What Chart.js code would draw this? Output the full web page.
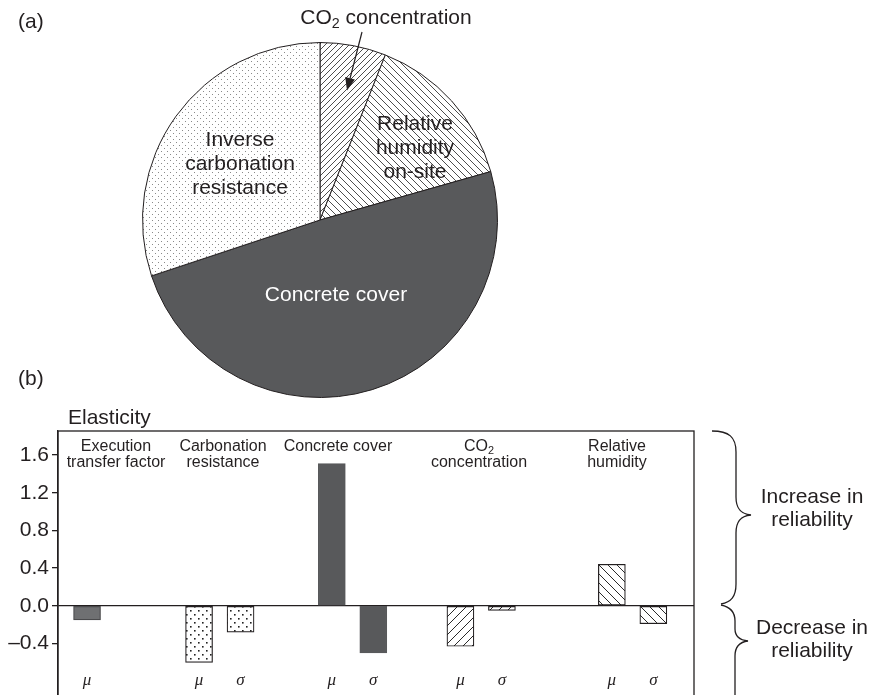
<!DOCTYPE html>
<html>
<head>
<meta charset="utf-8">
<script src="https://cdn.jsdelivr.net/npm/chart.js@4.4.1/dist/chart.umd.min.js"></script>
<style>
  html, body { margin: 0; padding: 0; width: 876px; height: 695px; overflow: hidden; background: #fff; }
  body { position: relative; font-family: "Liberation Sans", Arial, Helvetica, sans-serif; color: #231f20; }
  canvas { position: absolute; }
  .t { position: absolute; white-space: nowrap; text-align: center; transform: translate(-50%, -50%); }
  .l { position: absolute; white-space: nowrap; transform: translate(0, -50%); }
  .sub { font-size: 0.68em; position: relative; top: 0.3em; line-height: 0; }
  .sym { font-family: "Liberation Serif", "DejaVu Serif", serif; font-style: italic; font-size: 17px; }
  svg { position: absolute; left: 0; top: 0; }
</style>
</head>
<body>
<canvas id="pie" width="356" height="356" style="left:142px; top:42px"></canvas>
<canvas id="bars" width="876" height="340" style="left:0; top:380px"></canvas>

<svg width="876" height="695" viewBox="0 0 876 695">
  <!-- pointer to the thin CO2 slice -->
  <line x1="362" y1="32" x2="350" y2="78.5" stroke="#231f20" stroke-width="1.2"/>
  <polygon points="347,90.5 354.9,79.6 345.2,77.1" fill="#231f20"/>
  <!-- braces beside the elasticity plot -->
  <path d="M712,431 C729,431 736,437 736,452 L736,497 C736,508 740,514 751,515 C740,516 736,522 736,533 L736,584 C736,597 731,602 721,604"
        fill="none" stroke="#231f20" stroke-width="1.3"/>
  <path d="M721,605 C731,607 735,612 735,621 L735,629 C735,636 739,640 748,641 C739,642 735,647 735,656 L735,700"
        fill="none" stroke="#231f20" stroke-width="1.3"/>
</svg>

<div id="labels"></div>

<script>
// ---- pie: share of each variable ----
const pieLabels = ['CO₂ concentration', 'Relative humidity on-site', 'Concrete cover', 'Inverse carbonation resistance'];
const pieShares = [6.0, 14.6, 49.3, 30.1];

// ---- bars: elasticity of the reliability index ----
const variables = ['Execution transfer factor', 'Carbonation resistance', 'Concrete cover', 'CO₂ concentration', 'Relative humidity'];
const muElasticity = [-0.15, -0.60, 1.51, -0.43, 0.44];
const sigmaElasticity = [null, -0.28, -0.50, -0.05, -0.19];
const yTickValues = [-0.4, 0.0, 0.4, 0.8, 1.2, 1.6];
const paramSymbols = ['μ', 'σ'];

// slot of each variable's μ bar on the x axis (σ sits one slot to the right)
const groupSlot = [0.7, 3.4, 6.6, 9.7, 13.35];
const slotRange = [0, 15.33];

const INK = '#231f20';
const FONT = '"Liberation Sans", Arial, Helvetica, sans-serif';

function makePattern(ctx, size, draw) {
  const c = document.createElement('canvas');
  c.width = c.height = size;
  const g = c.getContext('2d');
  g.fillStyle = '#fff';
  g.fillRect(0, 0, size, size);
  draw(g, size);
  return ctx.createPattern(c, 'repeat');
}
function hatch(dir, lw, color) {
  return (g, s) => {
    g.strokeStyle = color; g.lineWidth = lw; g.beginPath();
    for (let k = -1; k <= 1; k++) {
      const o = k * s;
      if (dir === '/') { g.moveTo(o - 1, s + 1); g.lineTo(o + s + 1, -1); }
      else { g.moveTo(o - 1, -1); g.lineTo(o + s + 1, s + 1); }
    }
    g.stroke();
  };
}
function dots(points, d, color) {
  return (g) => { g.fillStyle = color; points.forEach(p => g.fillRect(p[0], p[1], d, d)); };
}

// ---- pie chart ----
const pieCtx = document.getElementById('pie').getContext('2d');
const pieFills = [
  makePattern(pieCtx, 6, hatch('/', 0.9, '#3a3a3a')),
  makePattern(pieCtx, 7, hatch('\\', 0.9, '#3a3a3a')),
  '#58595b',
  makePattern(pieCtx, 6, dots([[1, 1], [4, 4]], 1, '#8a8a8a'))
];
new Chart(pieCtx, {
  type: 'pie',
  data: { labels: pieLabels, datasets: [{ data: pieShares, backgroundColor: pieFills, borderColor: INK, borderWidth: 1 }] },
  options: {
    responsive: false, animation: false, devicePixelRatio: 1,
    layout: { padding: 0 },
    plugins: { legend: { display: false }, tooltip: { enabled: false } }
  }
});

// ---- bar chart ----
const barCtx = document.getElementById('bars').getContext('2d');
const barFills = [
  '#6f7072',
  makePattern(barCtx, 8, dots([[2, 2], [6, 6]], 1.6, '#222')),
  '#58595b',
  makePattern(barCtx, 9, hatch('/', 1, '#2a2a2a')),
  makePattern(barCtx, 9, hatch('\\', 1, '#2a2a2a'))
];
const barEdges = ['#4a4a4c', INK, '#58595b', INK, INK];

const plotFrame = {
  id: 'plotFrame',
  afterDraw(chart) {
    const { ctx, chartArea: a } = chart;
    ctx.save();
    ctx.strokeStyle = INK;
    ctx.lineWidth = 1.3;
    ctx.strokeRect(a.left, a.top, a.right - a.left, a.bottom - a.top);
    ctx.restore();
  }
};

const barStyle = { backgroundColor: barFills, borderColor: barEdges, borderWidth: 1.2, borderSkipped: false, barThickness: 27, grouped: false };

const barChart = new Chart(barCtx, {
  type: 'bar',
  data: {
    datasets: [
      Object.assign({ label: paramSymbols[0], data: muElasticity.map((v, i) => ({ x: groupSlot[i], y: v })) }, barStyle),
      Object.assign({ label: paramSymbols[1], data: sigmaElasticity.map((v, i) => ({ x: groupSlot[i] + 1, y: v })) }, barStyle)
    ]
  },
  options: {
    responsive: false, animation: false, devicePixelRatio: 1,
    layout: { padding: { left: 0, top: 51, right: 182, bottom: 20 } },
    plugins: { legend: { display: false }, tooltip: { enabled: false } },
    scales: {
      x: { type: 'linear', min: slotRange[0], max: slotRange[1], offset: false, display: false },
      y: {
        min: -1.0, max: 1.855,
        afterFit(s) { s.width = 58; },
        afterBuildTicks(s) { s.ticks = yTickValues.map(v => ({ value: v })); },
        ticks: {
          color: INK, padding: 3,
          font: { family: FONT, size: 21 },
          callback: v => (v < 0 ? '\u2013' : '') + Math.abs(v).toFixed(1)
        },
        grid: {
          drawOnChartArea: true,
          color: c => (c.tick && c.tick.value === 0) ? INK : 'rgba(0,0,0,0)',
          lineWidth: 1.3,
          tickColor: INK, tickLength: 6, tickWidth: 1.3
        },
        border: { display: true, color: INK, width: 1.3 }
      }
    }
  },
  plugins: [plotFrame]
});

// ---- text ----
const layer = document.getElementById('labels');
const withSub = s => s.replace('₂', '<span class="sub">2</span>');
function put(html, x, y, size, opts = {}) {
  const d = document.createElement('div');
  d.className = opts.left ? 'l' : 't';
  d.innerHTML = html;
  d.style.left = x + 'px';
  d.style.top = y + 'px';
  d.style.fontSize = size + 'px';
  d.style.lineHeight = (opts.lh || size * 1.15) + 'px';
  if (opts.color) d.style.color = opts.color;
  layer.appendChild(d);
  return d;
}

put('(a)', 18, 21, 21, { left: true });
put('(b)', 18, 378, 21, { left: true });

// pie labels
put(withSub(pieLabels[0]), 386, 17, 21);
put('Relative<br>humidity<br>on-site', 415, 147, 21, { lh: 24 });
put('Inverse<br>carbonation<br>resistance', 240, 163, 21, { lh: 24 });
put(pieLabels[2], 336, 294, 21, { color: '#fff' });

// bar chart annotations
put('Elasticity', 68, 417, 21, { left: true });
const groupText = [
  ['Execution', 'transfer factor', 116],
  ['Carbonation', 'resistance', 223],
  ['Concrete cover', '', 338],
  ['CO₂', 'concentration', 479],
  ['Relative', 'humidity', 617]
];
groupText.forEach(g => {
  if (g[1]) put(withSub(g[0]) + '<br>' + g[1], g[2], 454, 16, { lh: 16 });
  else put(g[0], g[2], 446, 16, { lh: 16 });
});

put('Increase in<br>reliability', 812, 507, 21, { lh: 23 });
put('Decrease in<br>reliability', 812, 638, 21, { lh: 23 });

// μ / σ under each bar, placed with the chart's x scale
const xs = barChart.scales.x;
const canvasLeft = 0;
variables.forEach((v, i) => {
  const mx = canvasLeft + xs.getPixelForValue(groupSlot[i]);
  put('<span class="sym">' + paramSymbols[0] + '</span>', mx, 680, 17);
  if (sigmaElasticity[i] !== null) {
    const sx = canvasLeft + xs.getPixelForValue(groupSlot[i] + 1);
    put('<span class="sym">' + paramSymbols[1] + '</span>', sx, 680, 17);
  }
});
</script>
</body>
</html>
